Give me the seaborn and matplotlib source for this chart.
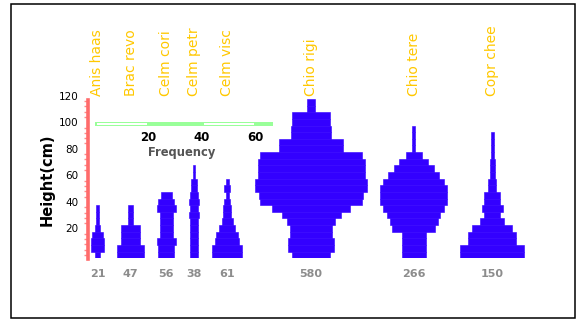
import numpy as np
import pandas as pd
import matplotlib
matplotlib.use("Agg")
import matplotlib.pyplot as plt
from matplotlib.patches import Rectangle
import seaborn as sns

# ---------------- data ----------------
species = ["Anis haas", "Brac revo", "Celm cori", "Celm petr", "Celm visc",
           "Chio rigi", "Chio tere", "Copr chee"]
totals = [21, 47, 56, 38, 61, 580, 266, 150]
bin_size = 5  # cm per height class (class k centred at 5*k cm)

# frequency per 5-cm height class, from the ground upwards
anis_haas = [2, 5, 5, 4, 2, 1, 1, 1]
brac_revo = [10, 10, 7, 7, 7, 2, 2, 2]
celm_cori = [6, 6, 7, 5, 5, 5, 5, 7, 6, 4]
celm_petr = [3, 3, 3, 3, 3, 3, 4, 3, 4, 3, 2, 2, 1, 1]
celm_visc = [11, 11, 9, 8, 6, 4, 3, 3, 2, 1, 2, 1]
chio_rigi = [14, 17, 17, 16, 16, 18, 22, 29, 38, 39, 42, 42, 40, 40, 40, 38,
             24, 24, 15, 15, 14, 14, 3, 3]
chio_tere = [9, 9, 9, 9, 16, 18, 20, 23, 25, 25, 25, 23, 19, 15, 11, 6, 1, 1, 1, 1]
copr_chee = [24, 24, 18, 18, 15, 9, 6, 8, 6, 6, 3, 3, 2, 2, 2, 1, 1, 1, 1]

freqs = [anis_haas, brac_revo, celm_cori, celm_petr, celm_visc,
         chio_rigi, chio_tere, copr_chee]

y_ticks = [20, 40, 60, 80, 100, 120]
scale_ticks = [20, 40, 60]

# ---------------- layout ----------------
W, H = 579, 320
START, GAP = -1.57, 4.87

rows = []
edge = START
centers = []
for name, f in zip(species, freqs):
    wmax = max(f)
    c = edge + wmax / 2
    centers.append(c)
    edge += wmax + GAP
    for k, v in enumerate(f):
        rows.append({"species": name, "height": k * bin_size, "freq": v, "center": c})
df = pd.DataFrame(rows)

sns.set_theme(style="white")
plt.rcParams["font.family"] = ["DejaVu Sans"]

fig = plt.figure(figsize=(W / 100, H / 100), dpi=100)
fig.patch.set_facecolor("white")

ax_l, ax_r = 87.5, 570.0
ax_top, ax_bot = 95.7, 258.3
ax = fig.add_axes([ax_l / W, (H - ax_bot) / H, (ax_r - ax_l) / W, (ax_bot - ax_top) / H])
ax.set_facecolor("white")

px_per_unit = 2.675
xmin = (ax_l - 95) / px_per_unit
xmax = (ax_r - 95) / px_per_unit
ax.set_xlim(xmin, xmax)
ax.set_ylim(-2.5, 120)

# kite bars
ax.barh(df["height"], df["freq"], left=df["center"] - df["freq"] / 2,
        height=bin_size, color="#3300ff", edgecolor="#3300ff", linewidth=0.4,
        zorder=3)

# spines / axis
for s in ["top", "right", "bottom"]:
    ax.spines[s].set_visible(False)
ax.spines["left"].set_color("#ff6b6b")
ax.spines["left"].set_linewidth(2.6)
ax.spines["left"].set_bounds(-3, 117)
ax.set_xticks([])
ax.set_yticks(y_ticks)
ax.set_yticklabels([str(v) for v in y_ticks], fontsize=7.5, color="black")
ax.tick_params(axis="y", which="major", length=0, pad=6.5, left=True)
ax.set_yticks(np.arange(0, 117, 4), minor=True)
ax.tick_params(axis="y", which="minor", length=2.8, width=1.0, color="#ff8c8c",
               direction="out", left=True)
ax.set_ylabel("Height(cm)", fontsize=10.5, fontweight="bold", color="black")
ax.yaxis.set_label_coords((55 - ax_l) / (ax_r - ax_l), (ax_bot - 180) / (ax_bot - ax_top))

# frequency scale bar
ax.add_patch(Rectangle((0, 97.2), 66.5, 3.3, facecolor="#99ff99", edgecolor="none",
                       zorder=2, clip_on=False))
for a, b in [(0.6, 19.4), (40.6, 59.4)]:
    ax.add_patch(Rectangle((a, 98.0), b - a, 1.5, facecolor="white",
                           edgecolor="none", zorder=2.5, clip_on=False))
for t in scale_ticks:
    ax.text(t, 88.8, str(t), ha="center", va="center", fontsize=8.5,
            fontweight="bold", color="black")
ax.text(32.4, 77.4, "Frequency", ha="center", va="center", fontsize=8.3,
        fontweight="bold", color="#555555")

# species labels and totals
xt = ax.get_xaxis_transform()
for name, c, tot in zip(species, centers, totals):
    ax.text(c, 1.0, name, rotation=90, ha="center", va="bottom", fontsize=10,
            color="#ffc800", transform=xt, clip_on=False)
    ax.text(c, -0.095, str(tot), ha="center", va="center", fontsize=8,
            fontweight="bold", color="#8c8c8c", transform=xt, clip_on=False)

# outer frame
fig.patches.append(Rectangle((11 / W, 2 / H), 564 / W, 314 / H, transform=fig.transFigure,
                             facecolor="none", edgecolor="black", linewidth=1.1))

fig.savefig("out.png", dpi=100, facecolor="white")
